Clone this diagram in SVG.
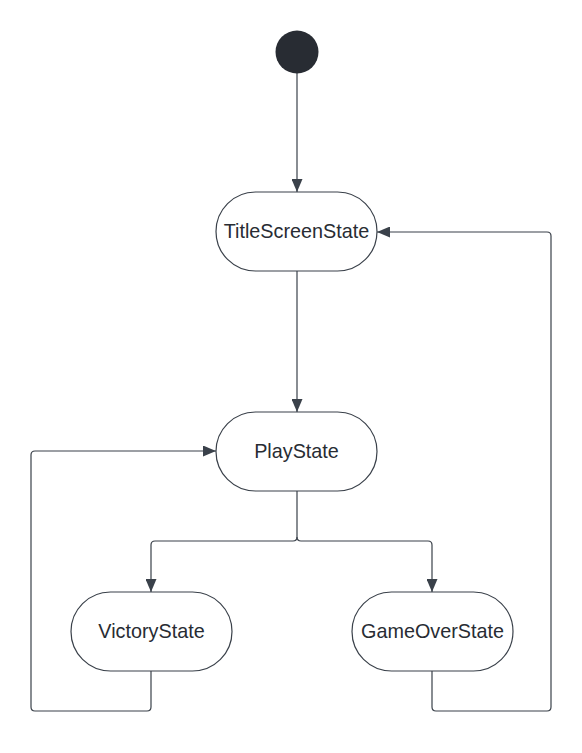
<svg xmlns="http://www.w3.org/2000/svg" width="582" height="753" viewBox="0 0 582 753">
<style>
.node rect{fill:#fff;stroke:#3a414a;stroke-width:1.2}
.node text{font-family:"Liberation Sans",Arial,sans-serif;font-size:19.8px;fill:#282c33;text-anchor:middle}
.edge{fill:none;stroke:#3a414a;stroke-width:1.2}
</style>
<defs>
<marker id="arr" viewBox="0 0 13 11" refX="13" refY="5.5" markerWidth="13" markerHeight="11" markerUnits="userSpaceOnUse" orient="auto">
<path d="M0,0 L13,5.5 L0,11 Z" fill="#3a414a"/>
</marker>
</defs>
<rect width="582" height="753" fill="#fff"/>
<g id="connectors">
<path class="edge" d="M297,73 V192" marker-end="url(#arr)"/>
<path class="edge" d="M297,271 V412" marker-end="url(#arr)"/>
<path class="edge" d="M297,491 V537 Q297,541 293,541 H155 Q151,541 151,545 V592" marker-end="url(#arr)"/>
<path class="edge" d="M297,537 Q297,541 301,541 H428 Q432,541 432,545 V592" marker-end="url(#arr)"/>
<path class="edge" d="M151,671 V707 Q151,711 147,711 H35 Q31,711 31,707 V455 Q31,451 35,451 H216" marker-end="url(#arr)"/>
<path class="edge" d="M432,671 V707 Q432,711 436,711 H547 Q551,711 551,707 V236 Q551,232 547,232 H377" marker-end="url(#arr)"/>
</g>
<g id="start"><circle cx="297" cy="52" r="21.5" fill="#282c33"/></g>
<g id="TitleScreenState" class="node"><rect x="216" y="192" width="161" height="79" rx="39.5"/><text x="296.5" y="238">TitleScreenState</text></g>
<g id="PlayState" class="node"><rect x="216" y="412" width="161" height="79" rx="39.5"/><text x="296.5" y="458">PlayState</text></g>
<g id="VictoryState" class="node"><rect x="71" y="592" width="161" height="79" rx="39.5"/><text x="151.5" y="638">VictoryState</text></g>
<g id="GameOverState" class="node"><rect x="352" y="592" width="161" height="79" rx="39.5"/><text x="432.5" y="638">GameOverState</text></g>
</svg>
